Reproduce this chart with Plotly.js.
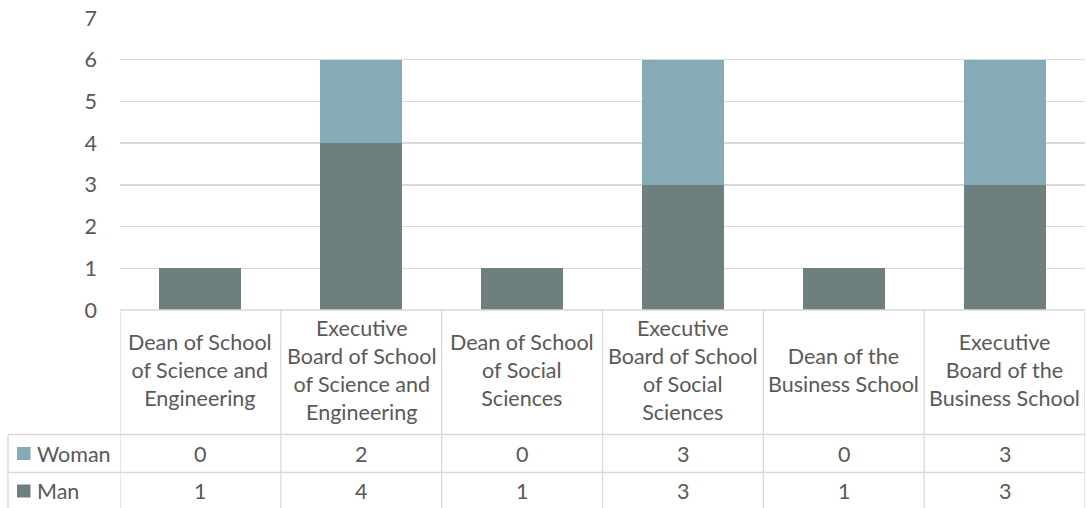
<!DOCTYPE html>
<html>
<head>
<meta charset="utf-8">
<script src="https://cdn.plot.ly/plotly-3.0.1.min.js"></script>
<style>html,body{margin:0;padding:0;background:#fff}#chart{width:1086px;height:508px}</style>
</head>
<body>
<div id="chart"></div>
<script>
const categories = [
  "Dean of School<br>of Science and<br>Engineering",
  "Executive<br>Board of School<br>of Science and<br>Engineering",
  "Dean of School<br>of Social<br>Sciences",
  "Executive<br>Board of School<br>of Social<br>Sciences",
  "Dean of the<br>Business School",
  "Executive<br>Board of the<br>Business School"
];
const seriesNames = ["Woman", "Man"];
const womanValues = [0, 2, 0, 3, 0, 3];
const manValues = [1, 4, 1, 3, 1, 3];
const yTicks = [0, 1, 2, 3, 4, 5, 6, 7];

const colors = {Man: "#6E7F80", Woman: "#85ACB6"};
const textColor = "#595959";
const lineColor = "#D9D9D9";
const FONT = "Lato, 'Open Sans', sans-serif";
const FS = 21.5;

const xIdx = categories.map((c, i) => i);

const traces = [
  {type: "bar", name: "Man", x: xIdx, y: manValues, width: 0.51,
   marker: {color: colors.Man}, hoverinfo: "x+y"},
  {type: "bar", name: "Woman", x: xIdx, y: womanValues, width: 0.51,
   marker: {color: colors.Woman}, hoverinfo: "x+y"}
];

// table geometry in paper coords (plot area height 292 px, top at 18, bottom at 310)
const plotH = 292, plotW = 965;
const py = px => (310 - px) / plotH;   // pixel y -> paper y
const pxX = px => (px - 120) / plotW;  // pixel x -> paper x
const headerBottom = py(434.5);
const row1Bottom = py(472.5);
const tableBottom = py(511);

const shapes = [];
const line = {color: lineColor, width: 1.3};
// horizontal lines
shapes.push({type: "line", xref: "paper", yref: "paper", x0: 0, x1: 1, y0: 0, y1: 0, line});
[headerBottom, row1Bottom, tableBottom].forEach(yy =>
  shapes.push({type: "line", xref: "paper", yref: "paper", x0: pxX(8), x1: 1, y0: yy, y1: yy, line}));
// vertical lines
shapes.push({type: "line", xref: "paper", yref: "paper", x0: pxX(8), x1: pxX(8), y0: headerBottom, y1: tableBottom, line});
for (let i = 0; i <= categories.length; i++) {
  shapes.push({type: "line", xref: "x", yref: "paper", x0: i - 0.5, x1: i - 0.5, y0: 0, y1: tableBottom, line});
}
// legend keys in the table
const rowCenters = {Woman: py(453.5), Man: py(491)};
seriesNames.forEach(n => {
  const c = rowCenters[n];
  shapes.push({type: "rect", xref: "paper", yref: "paper", x0: pxX(17), x1: pxX(30.5),
    y0: c - 6.5 / plotH, y1: c + 6.5 / plotH, fillcolor: colors[n], line: {width: 0}});
});

const annotations = [];
const headerCenter = py(369.5);
categories.forEach((c, i) => {
  annotations.push({xref: "x", yref: "paper", x: i, y: headerCenter, text: c, showarrow: false,
    xanchor: "center", yanchor: "middle", align: "center", font: {family: FONT, size: FS, color: textColor}});
  annotations.push({xref: "x", yref: "paper", x: i, y: rowCenters.Woman, text: String(womanValues[i]), showarrow: false,
    xanchor: "center", yanchor: "middle", font: {family: FONT, size: FS, color: textColor}});
  annotations.push({xref: "x", yref: "paper", x: i, y: rowCenters.Man, text: String(manValues[i]), showarrow: false,
    xanchor: "center", yanchor: "middle", font: {family: FONT, size: FS, color: textColor}});
});
seriesNames.forEach(n => {
  annotations.push({xref: "paper", yref: "paper", x: pxX(35), y: rowCenters[n], text: n, showarrow: false,
    xanchor: "left", yanchor: "middle", font: {family: FONT, size: FS, color: textColor}});
});

const layout = {
  width: 1086, height: 508,
  margin: {l: 120, r: 1, t: 18, b: 198, pad: 0},
  paper_bgcolor: "#fff", plot_bgcolor: "#fff",
  barmode: "stack",
  showlegend: false,
  font: {family: FONT, size: FS, color: textColor},
  xaxis: {type: "linear", range: [-0.5, categories.length - 0.5], showticklabels: false,
    showgrid: false, zeroline: false, showline: false, ticks: "", fixedrange: true},
  yaxis: {range: [0, 7], tickvals: yTicks, ticktext: yTicks.map(String),
    showgrid: true, gridcolor: lineColor, gridwidth: 1.3, zeroline: false, showline: false,
    ticks: "", ticklabelstandoff: 22, tickfont: {family: FONT, size: FS, color: textColor}, fixedrange: true},
  shapes, annotations
};

Plotly.newPlot("chart", traces, layout, {displayModeBar: false, staticPlot: true});
</script>
</body>
</html>
